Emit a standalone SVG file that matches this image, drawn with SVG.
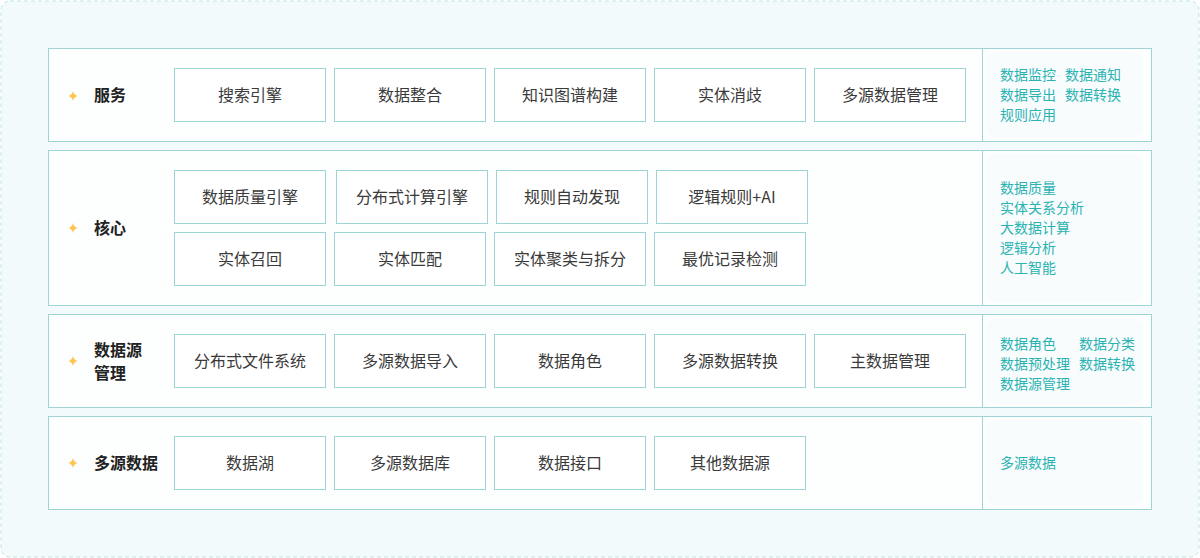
<svg xmlns="http://www.w3.org/2000/svg" width="1200" height="558" viewBox="0 0 1200 558">
<style>
.row{fill:#fdfefe;stroke:#9ed4d6;stroke-width:1}
.box{fill:#ffffff;stroke:#9ed4d6;stroke-width:1}
.card{fill:#f9fcfd;stroke:none}
.lbl{font-family:"Noto Sans CJK SC","Noto Sans",sans-serif;font-size:16px;font-weight:700;fill:#222}
.bt{font-family:"Noto Sans CJK SC","Noto Sans",sans-serif;font-size:16px;fill:#3a3a3a;text-anchor:middle}
.rt{font-family:"Noto Sans CJK SC","Noto Sans",sans-serif;font-size:14px;fill:#2bb3b3}
.star{fill:#ffc44f}
</style>
<defs>
<path id="sp" d="M0,-5 Q0.8,-0.8 5,0 Q0.8,0.8 0,5 Q-0.8,0.8 -5,0 Q-0.8,-0.8 0,-5Z"/>
</defs>
<rect x="1" y="1" width="1198" height="556" rx="9" fill="#f2fafc" stroke="#bfe5e6" stroke-dasharray="4,3"/>

<g id="row-service">
<rect class="row" x="48.5" y="48.5" width="1103" height="93"/>
<line x1="982.5" y1="48.5" x2="982.5" y2="141.5" stroke="#9ed4d6"/>
<rect class="card" x="986" y="52" width="157" height="86" rx="10"/>
<use href="#sp" x="73" y="96" class="star"/>
<text class="lbl" x="94" y="101">服务</text>
<rect class="box" x="174.5" y="68.5" width="151" height="53"/><text class="bt" x="250" y="101">搜索引擎</text>
<rect class="box" x="334.5" y="68.5" width="151" height="53"/><text class="bt" x="410" y="101">数据整合</text>
<rect class="box" x="494.5" y="68.5" width="151" height="53"/><text class="bt" x="570" y="101">知识图谱构建</text>
<rect class="box" x="654.5" y="68.5" width="151" height="53"/><text class="bt" x="730" y="101">实体消歧</text>
<rect class="box" x="814.5" y="68.5" width="151" height="53"/><text class="bt" x="890" y="101">多源数据管理</text>
<text class="rt" x="1000" y="80">数据监控</text><text class="rt" x="1065" y="80">数据通知</text>
<text class="rt" x="1000" y="100">数据导出</text><text class="rt" x="1065" y="100">数据转换</text>
<text class="rt" x="1000" y="120">规则应用</text>
</g>

<g id="row-core">
<rect class="row" x="48.5" y="150.5" width="1103" height="155"/>
<line x1="982.5" y1="150.5" x2="982.5" y2="305.5" stroke="#9ed4d6"/>
<rect class="card" x="986" y="154" width="157" height="148" rx="10"/>
<use href="#sp" x="73" y="228" class="star"/>
<text class="lbl" x="94" y="234">核心</text>
<rect class="box" x="174.5" y="170.5" width="151" height="53"/><text class="bt" x="250" y="203">数据质量引擎</text>
<rect class="box" x="336.5" y="170.5" width="151" height="53"/><text class="bt" x="412" y="203">分布式计算引擎</text>
<rect class="box" x="496.5" y="170.5" width="151" height="53"/><text class="bt" x="572" y="203">规则自动发现</text>
<rect class="box" x="656.5" y="170.5" width="151" height="53"/><text class="bt" x="732" y="203">逻辑规则+AI</text>
<rect class="box" x="174.5" y="232.5" width="151" height="53"/><text class="bt" x="250" y="265">实体召回</text>
<rect class="box" x="334.5" y="232.5" width="151" height="53"/><text class="bt" x="410" y="265">实体匹配</text>
<rect class="box" x="494.5" y="232.5" width="151" height="53"/><text class="bt" x="570" y="265">实体聚类与拆分</text>
<rect class="box" x="654.5" y="232.5" width="151" height="53"/><text class="bt" x="730" y="265">最优记录检测</text>
<text class="rt" x="1000" y="193">数据质量</text>
<text class="rt" x="1000" y="213">实体关系分析</text>
<text class="rt" x="1000" y="233">大数据计算</text>
<text class="rt" x="1000" y="253">逻辑分析</text>
<text class="rt" x="1000" y="273">人工智能</text>
</g>

<g id="row-source">
<rect class="row" x="48.5" y="314.5" width="1103" height="93"/>
<line x1="982.5" y1="314.5" x2="982.5" y2="407.5" stroke="#9ed4d6"/>
<rect class="card" x="986" y="318" width="157" height="86" rx="10"/>
<use href="#sp" x="73" y="361" class="star"/>
<text class="lbl" x="94" y="356">数据源</text>
<text class="lbl" x="94" y="378.5">管理</text>
<rect class="box" x="174.5" y="334.5" width="151" height="53"/><text class="bt" x="250" y="367">分布式文件系统</text>
<rect class="box" x="334.5" y="334.5" width="151" height="53"/><text class="bt" x="410" y="367">多源数据导入</text>
<rect class="box" x="494.5" y="334.5" width="151" height="53"/><text class="bt" x="570" y="367">数据角色</text>
<rect class="box" x="654.5" y="334.5" width="151" height="53"/><text class="bt" x="730" y="367">多源数据转换</text>
<rect class="box" x="814.5" y="334.5" width="151" height="53"/><text class="bt" x="890" y="367">主数据管理</text>
<text class="rt" x="1000" y="349">数据角色</text><text class="rt" x="1079" y="349">数据分类</text>
<text class="rt" x="1000" y="369">数据预处理</text><text class="rt" x="1079" y="369">数据转换</text>
<text class="rt" x="1000" y="389">数据源管理</text>
</g>

<g id="row-data">
<rect class="row" x="48.5" y="416.5" width="1103" height="93"/>
<line x1="982.5" y1="416.5" x2="982.5" y2="509.5" stroke="#9ed4d6"/>
<rect class="card" x="986" y="420" width="157" height="86" rx="10"/>
<use href="#sp" x="73" y="463" class="star"/>
<text class="lbl" x="94" y="469">多源数据</text>
<rect class="box" x="174.5" y="436.5" width="151" height="53"/><text class="bt" x="250" y="469">数据湖</text>
<rect class="box" x="334.5" y="436.5" width="151" height="53"/><text class="bt" x="410" y="469">多源数据库</text>
<rect class="box" x="494.5" y="436.5" width="151" height="53"/><text class="bt" x="570" y="469">数据接口</text>
<rect class="box" x="654.5" y="436.5" width="151" height="53"/><text class="bt" x="730" y="469">其他数据源</text>
<text class="rt" x="1000" y="468">多源数据</text>
</g>

<g id="connectors"></g>
</svg>
